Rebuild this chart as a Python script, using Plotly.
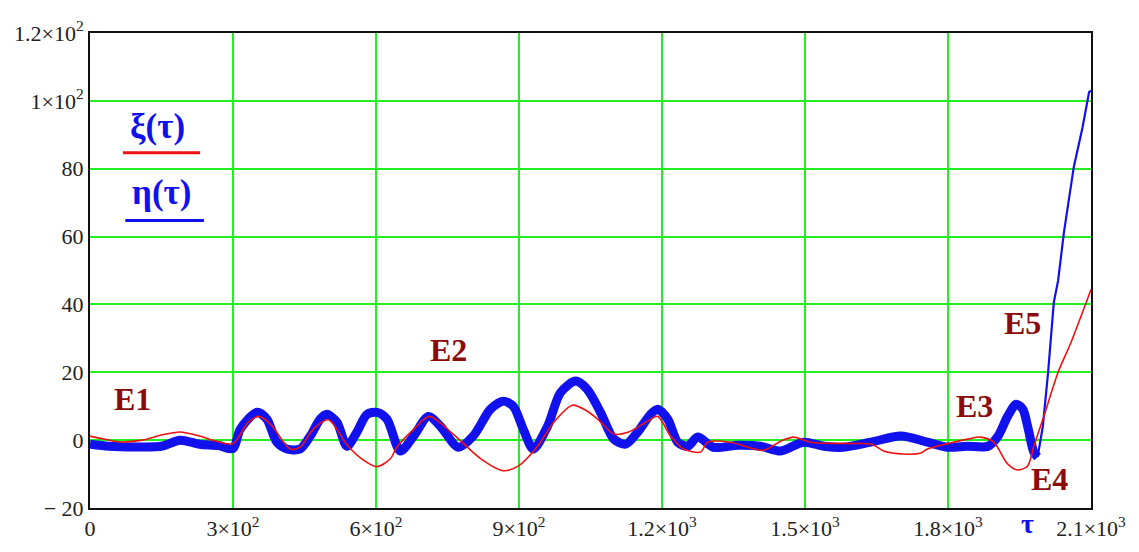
import plotly.graph_objects as go

# --- data ---
tau_xi = [0, 20, 60, 110, 150, 189, 230, 262, 300, 332, 355, 380, 420, 441, 468, 500, 540,
          570, 602, 630, 644, 679, 712, 760, 820, 867, 899, 939, 973, 1012, 1040, 1065, 1099,
          1130, 1170, 1191, 1218, 1245, 1281, 1296, 1344, 1413, 1449, 1476, 1512, 1600, 1640,
          1665, 1707, 1743, 1757, 1800, 1841, 1869, 1896, 1925, 1946, 1967, 1980, 2001, 2031,
          2058, 2100]
xi = [1.2, 0.6, -0.5, 0.0, 1.5, 2.4, 1.2, -0.2, -1.0, 5.3, 7.0, 4.5, -2.6, -2.0, 3.2, 6.0, -1.5,
      -5.5, -7.8, -5.5, -2.0, 3.2, 7.0, 2.0, -5.5, -9.0, -7.6, -1.8, 5.3, 10.3, 8.8, 6.2, 1.8,
      2.4, 5.6, 7.0, 1.2, -2.6, -3.5, -0.6, -0.6, -3.0, -0.3, 0.9, -0.6, -1.0, -1.2,
      -3.2, -4.1, -3.8, -2.6, -1.0, 0.3, 0.9, -0.6, -7.0, -8.8, -7.6, -1.8, 7.0, 20.0,
      28.8, 44.4]

tau_eta = [0, 40, 100, 150, 189, 230, 270, 300, 315, 350, 371, 392, 413, 441, 462, 483, 497,
           518, 539, 560, 581, 602, 623, 651, 679, 710, 735, 773, 804, 840, 867, 888, 909, 930,
           960, 987, 1019, 1043, 1071, 1099, 1124, 1149, 1176, 1191, 1212, 1233, 1254, 1275,
           1308, 1360, 1407, 1449, 1497, 1540, 1581, 1638, 1701, 1757, 1800, 1840, 1884, 1905,
           1925, 1943, 1957, 1967, 1980, 1988]
eta = [-1.2, -1.8, -2.0, -1.8, 0.0, -1.2, -1.6, -2.5, 3.2, 8.2, 6.2, -0.6, -2.6, -2.6, 1.2, 6.2,
       7.6, 5.3, -1.8, 2.4, 7.6, 8.2, 6.2, -3.2, 1.2, 7.0, 4.1, -2.1, 1.2, 9.1, 11.5, 10.0, 3.2,
       -2.6, 4.1, 14.0, 17.4, 15.0, 8.2, 0.3, -1.2, 2.4, 7.6, 9.1, 6.2, -0.6, -1.8, 0.9,
       -2.1, -1.5, -1.8, -3.2, -0.6, -1.8, -2.1, -0.6, 1.2, -0.6, -2.1, -1.8, -1.8, 1.2,
       7.0, 10.6, 9.1, 4.1, -3.5, -5.0]

tau_eta_rise = [1988, 1999, 2010, 2022, 2031, 2043, 2064, 2082, 2096, 2100]
eta_rise = [-5.0, 4.1, 20.0, 40.6, 47.0, 61.0, 80.6, 92.0, 102.6, 103.0]

x_ticks = [0, 300, 600, 900, 1200, 1500, 1800, 2100]
x_labels = ["0", "3×10<sup>2</sup>", "6×10<sup>2</sup>", "9×10<sup>2</sup>",
            "1.2×10<sup>3</sup>", "1.5×10<sup>3</sup>", "1.8×10<sup>3</sup>", "2.1×10<sup>3</sup>"]
y_ticks = [-20, 0, 20, 40, 60, 80, 100, 120]
y_labels = ["− 20", "0", "20", "40", "60", "80", "1×10<sup>2</sup>", "1.2×10<sup>2</sup>"]

RED = "#ee1111"
BLUE = "#1111ee"
GREEN = "#22ee22"
MAROON = "#8b0a0a"
SERIF = "Liberation Serif"

fig = go.Figure()
fig.add_trace(go.Scatter(x=tau_eta, y=eta, mode="lines",
                         line=dict(color=BLUE, width=9, shape="spline", smoothing=0.8),
                         showlegend=False))
fig.add_trace(go.Scatter(x=tau_eta_rise, y=eta_rise, mode="lines",
                         line=dict(color=BLUE, width=2.2), showlegend=False))
fig.add_trace(go.Scatter(x=tau_xi, y=xi, mode="lines",
                         line=dict(color=RED, width=1.6, shape="spline", smoothing=0.8),
                         showlegend=False))

axis_common = dict(showgrid=True, gridcolor=GREEN, gridwidth=2, zeroline=False,
                   showline=True, linecolor="#111111", linewidth=2, mirror=True,
                   automargin=False,
                   ticks="", tickfont=dict(family=SERIF, size=22, color="#222222"))

fig.update_xaxes(range=[0, 2100], tickvals=x_ticks, ticktext=x_labels, **axis_common)
fig.update_yaxes(range=[-20, 120], tickvals=y_ticks, ticktext=y_labels, **axis_common)

annotations = [
    dict(text="E1", x=90, y=12), dict(text="E2", x=752, y=26.5),
    dict(text="E3", x=1855, y=10), dict(text="E4", x=2012, y=-11.5),
    dict(text="E5", x=1957, y=34.5),
]
anns = []
for a in annotations:
    anns.append(dict(text="<b>%s</b>" % a["text"], x=a["x"], y=a["y"], xref="x", yref="y",
                     showarrow=False, font=dict(family=SERIF, size=32, color=MAROON)))
anns.append(dict(text="<b>ξ(τ)</b>", x=141, y=92.5, xref="x", yref="y", showarrow=False,
                 font=dict(family=SERIF, size=35, color=BLUE)))
anns.append(dict(text="<b>η(τ)</b>", x=151, y=73, xref="x", yref="y", showarrow=False,
                 font=dict(family=SERIF, size=35, color=BLUE)))
anns.append(dict(text="<b>τ</b>", x=0.945, y=-0.032, xref="paper", yref="paper",
                 showarrow=False, yanchor="middle",
                 font=dict(family=SERIF, size=28, color=BLUE)))

shapes = [
    dict(type="line", x0=69, x1=231, y0=84.7, y1=84.7, xref="x", yref="y",
         line=dict(color=RED, width=3)),
    dict(type="line", x0=74, x1=239, y0=64.7, y1=64.7, xref="x", yref="y",
         line=dict(color=BLUE, width=3)),
]

# page body has an 8px margin: shrink the figure so the plot area lands where the reference has it
fig.update_layout(width=1123, height=536, margin=dict(l=82, r=40, t=25, b=36),
                  plot_bgcolor="white", paper_bgcolor="white",
                  annotations=anns, shapes=shapes, showlegend=False)

fig.write_html("out.html")
